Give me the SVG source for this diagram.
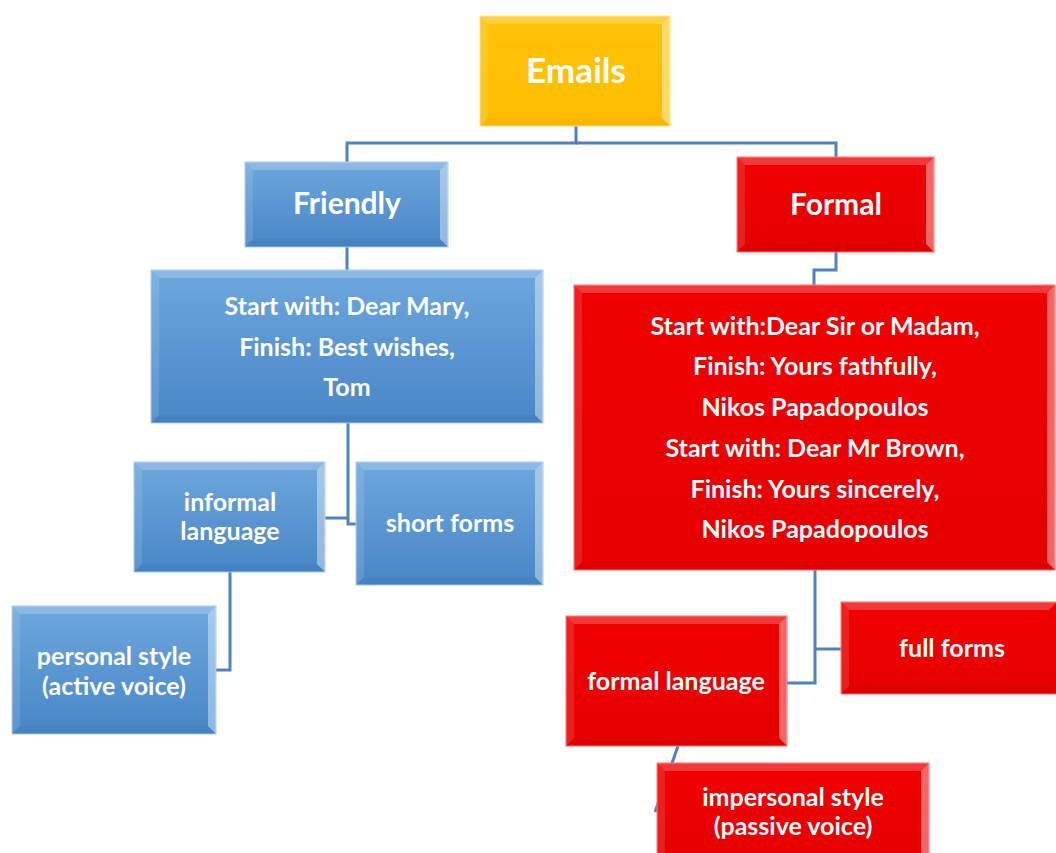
<svg xmlns="http://www.w3.org/2000/svg" width="1056" height="853" viewBox="0 0 1056 853">
<defs>
<linearGradient id="gBlue" x1="0" y1="0" x2="0" y2="1"><stop offset="0" stop-color="#6DA7DD"/><stop offset="1" stop-color="#4886C6"/></linearGradient>
<linearGradient id="gRed" x1="0" y1="0" x2="0" y2="1"><stop offset="0" stop-color="#F00000"/><stop offset="1" stop-color="#E60000"/></linearGradient>
<linearGradient id="gGold" x1="0" y1="0" x2="0" y2="1"><stop offset="0" stop-color="#FFC30A"/><stop offset="1" stop-color="#FFBD00"/></linearGradient>
</defs>
<style>
.blue{fill:url(#gBlue);stroke:#A9CBEA;stroke-width:1}
.red{fill:url(#gRed);stroke:#FF7070;stroke-width:1}
.gold{fill:url(#gGold);stroke:#FFE27A;stroke-width:1}
.bt{fill:#fff;fill-opacity:0.22}
.bl{fill:#fff;fill-opacity:0.12}
.br{fill:#fff;fill-opacity:0.4}
.bb{fill:#000;fill-opacity:0.03}
.t{font-family:Lato,"Liberation Sans",sans-serif;font-weight:bold;fill:#fff;text-anchor:middle}
.s21{font-size:25px}
.s26{font-size:30px}
.s30{font-size:35px}
.conn{fill:none;stroke:#4F81BD;stroke-width:3}
</style>
<g id="connectors">
<path class="conn" d="M576,126 V143 H347 V162"/>
<path class="conn" d="M576,143 H836 V157"/>
<path class="conn" d="M347,247 V270"/>
<path class="conn" d="M836,252 V270 H814 V285"/>
<path class="conn" d="M348,423 V524 H356"/>
<path class="conn" d="M325,518 H348"/>
<path class="conn" d="M230,572 V670 H216"/>
<path class="conn" d="M815,570 V683 H787"/>
<path class="conn" d="M815,649 H841"/>
<path class="conn" d="M678,746 L655,812"/>
</g>
<g id="emails">
<rect class="gold" x="480" y="16" width="190" height="110"/>
<path class="bt" d="M480,16 H670 L662,24 H488 Z"/><path class="bl" d="M480,16 L488,24 V118 L480,126 Z"/><path class="br" d="M670,16 V126 L662,118 V24 Z"/><path class="bb" d="M480,126 H670 L662,118 H488 Z"/>
<text class="t s30" x="576" y="83">Emails</text>
</g>
<g id="friendly">
<rect class="blue" x="245" y="162" width="203" height="85"/>
<path class="bt" d="M245,162 H448 L440,170 H253 Z"/><path class="bl" d="M245,162 L253,170 V239 L245,247 Z"/><path class="br" d="M448,162 V247 L440,239 V170 Z"/><path class="bb" d="M245,247 H448 L440,239 H253 Z"/>
<text class="t s26" x="347" y="214">Friendly</text>
</g>
<g id="formal">
<rect class="red" x="737" y="157" width="197" height="95"/>
<path class="bt" d="M737,157 H934 L926,165 H745 Z"/><path class="bl" d="M737,157 L745,165 V244 L737,252 Z"/><path class="br" d="M934,157 V252 L926,244 V165 Z"/><path class="bb" d="M737,252 H934 L926,244 H745 Z"/>
<text class="t s26" x="836" y="215">Formal</text>
</g>
<g id="friendly-start">
<rect class="blue" x="151" y="270" width="392" height="153"/>
<path class="bt" d="M151,270 H543 L535,278 H159 Z"/><path class="bl" d="M151,270 L159,278 V415 L151,423 Z"/><path class="br" d="M543,270 V423 L535,415 V278 Z"/><path class="bb" d="M151,423 H543 L535,415 H159 Z"/>
<text class="t s21" x="347" y="315">Start with: Dear Mary,</text>
<text class="t s21" x="347" y="356">Finish: Best wishes,</text>
<text class="t s21" x="347" y="396">Tom</text>
</g>
<g id="formal-start">
<rect class="red" x="574" y="285" width="481" height="285"/>
<path class="bt" d="M574,285 H1055 L1047,293 H582 Z"/><path class="bl" d="M574,285 L582,293 V562 L574,570 Z"/><path class="br" d="M1055,285 V570 L1047,562 V293 Z"/><path class="bb" d="M574,570 H1055 L1047,562 H582 Z"/>
<text class="t s21" x="815" y="335">Start with:Dear Sir or Madam,</text>
<text class="t s21" x="815" y="375">Finish: Yours fathfully,</text>
<text class="t s21" x="815" y="416">Nikos Papadopoulos</text>
<text class="t s21" x="815" y="457">Start with: Dear Mr Brown,</text>
<text class="t s21" x="815" y="498">Finish: Yours sincerely,</text>
<text class="t s21" x="815" y="538">Nikos Papadopoulos</text>
</g>
<g id="informal">
<rect class="blue" x="134" y="462" width="191" height="110"/>
<path class="bt" d="M134,462 H325 L317,470 H142 Z"/><path class="bl" d="M134,462 L142,470 V564 L134,572 Z"/><path class="br" d="M325,462 V572 L317,564 V470 Z"/><path class="bb" d="M134,572 H325 L317,564 H142 Z"/>
<text class="t s21" x="230" y="511">informal</text>
<text class="t s21" x="230" y="540">language</text>
</g>
<g id="short-forms">
<rect class="blue" x="356" y="462" width="187" height="123"/>
<path class="bt" d="M356,462 H543 L535,470 H364 Z"/><path class="bl" d="M356,462 L364,470 V577 L356,585 Z"/><path class="br" d="M543,462 V585 L535,577 V470 Z"/><path class="bb" d="M356,585 H543 L535,577 H364 Z"/>
<text class="t s21" x="450" y="532">short forms</text>
</g>
<g id="personal">
<rect class="blue" x="12" y="606" width="204" height="128"/>
<path class="bt" d="M12,606 H216 L208,614 H20 Z"/><path class="bl" d="M12,606 L20,614 V726 L12,734 Z"/><path class="br" d="M216,606 V734 L208,726 V614 Z"/><path class="bb" d="M12,734 H216 L208,726 H20 Z"/>
<text class="t s21" x="114" y="665">personal style</text>
<text class="t s21" x="114" y="695">(active voice)</text>
</g>
<g id="full-forms">
<rect class="red" x="841" y="602" width="216" height="92"/>
<path class="bt" d="M841,602 H1057 L1049,610 H849 Z"/><path class="bl" d="M841,602 L849,610 V686 L841,694 Z"/><path class="bb" d="M841,694 H1057 L1049,686 H849 Z"/>
<text class="t s21" x="952" y="657">full forms</text>
</g>
<g id="formal-language">
<rect class="red" x="566" y="616" width="221" height="130"/>
<path class="bt" d="M566,616 H787 L779,624 H574 Z"/><path class="bl" d="M566,616 L574,624 V738 L566,746 Z"/><path class="br" d="M787,616 V746 L779,738 V624 Z"/><path class="bb" d="M566,746 H787 L779,738 H574 Z"/>
<text class="t s21" x="676" y="690">formal language</text>
</g>
<g id="impersonal">
<rect class="red" x="657" y="763" width="272" height="97"/>
<path class="bt" d="M657,763 H929 L921,771 H665 Z"/><path class="bl" d="M657,763 L665,771 V852 L657,860 Z"/><path class="br" d="M929,763 V860 L921,852 V771 Z"/>
<text class="t s21" x="793" y="806">impersonal style</text>
<text class="t s21" x="793" y="835">(passive voice)</text>
</g>
</svg>
